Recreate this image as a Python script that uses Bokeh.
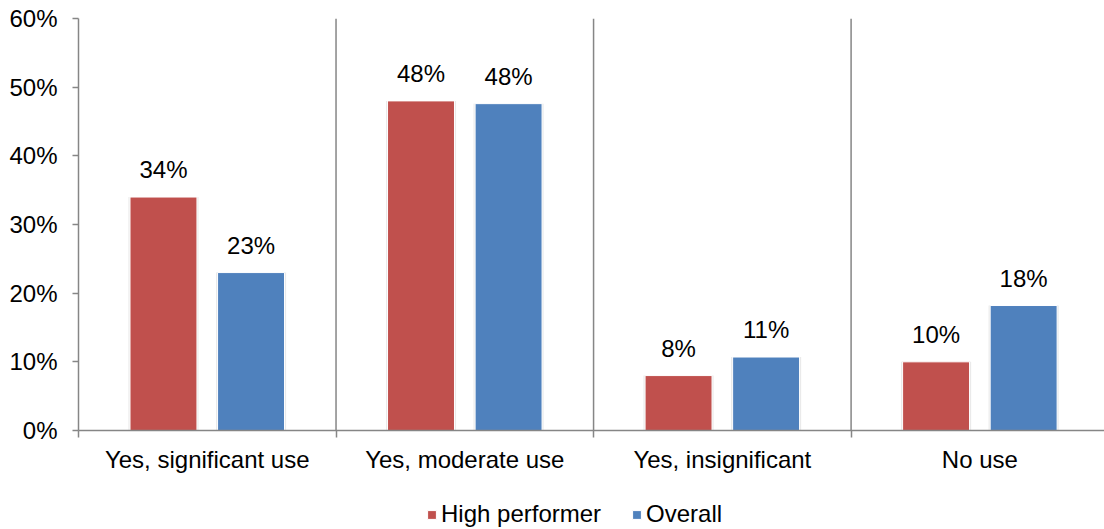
from bokeh.plotting import figure
from bokeh.layouts import column
from bokeh.models import (ColumnDataSource, FixedTicker, NumeralTickFormatter,
                          Span, Legend, LegendItem, Range1d)
from bokeh.core.properties import value
from bokeh.embed import file_html
from bokeh.resources import INLINE

# Survey responses: share of respondents per answer
categories = ["Yes, significant use", "Yes, moderate use", "Yes, insignificant", "No use"]
high_performer = [0.34, 0.48, 0.08, 0.10]
overall = [0.23, 0.476, 0.107, 0.182]
y_ticks = [0.0, 0.1, 0.2, 0.3, 0.4, 0.5, 0.6]
series_names = ["High performer", "Overall"]

RED = "#C0504D"
BLUE = "#4F81BD"
AXIS = "#868686"
FONT = "Liberation Sans"
FS = "24px"

n = len(categories)
centers = [i + 0.5 for i in range(n)]
bw = 0.26
off = 0.17

def pct(v):
    return f"{round(v * 100):.0f}%"

src_hp = ColumnDataSource(dict(x=[c - off for c in centers], top=high_performer,
                               label=[pct(v) for v in high_performer]))
src_ov = ColumnDataSource(dict(x=[c + off for c in centers], top=overall,
                               label=[pct(v) for v in overall]))

p = figure(frame_width=1026, frame_height=412, output_backend="svg", toolbar_location=None,
           x_range=Range1d(0, 3.984), y_range=Range1d(0, 0.6),
           min_border_left=78, min_border_right=0, min_border_top=18,
           min_border_bottom=67)
p.outline_line_color = None
p.xgrid.visible = False
p.ygrid.visible = False
p.background_fill_color = "white"
p.border_fill_color = "white"

# soft shadow behind each bar
for src in (src_hp, src_ov):
    p.vbar(x="x", top="top", width=bw + 0.012, source=src, fill_color="#bfbfbf",
           fill_alpha=0.35, line_color=None)

p.vbar(x="x", top="top", width=bw, source=src_hp, fill_color=RED,
       line_color="white", line_width=1)
p.vbar(x="x", top="top", width=bw, source=src_ov, fill_color=BLUE,
       line_color="white", line_width=1)

for src in (src_hp, src_ov):
    p.text(x="x", y="top", text="label", source=src, text_align="center",
           text_baseline="bottom", y_offset=-14, text_font_size=value(FS),
           text_font=value(FONT), text_color="black")

# separators between answer groups
for b in range(1, n):
    p.add_layout(Span(location=b, dimension="height", line_color=AXIS, line_width=1.5))

# axes
p.yaxis.ticker = FixedTicker(ticks=y_ticks)
p.yaxis.formatter = NumeralTickFormatter(format="0%")
p.yaxis.axis_line_color = AXIS
p.yaxis.axis_line_width = 1.5
p.yaxis.major_tick_line_color = AXIS
p.yaxis.major_tick_line_width = 1.5
p.yaxis.major_tick_out = 6
p.yaxis.major_tick_in = 0
p.yaxis.minor_tick_line_color = None
p.yaxis.major_label_standoff = 15
p.yaxis.major_label_text_font = FONT
p.yaxis.major_label_text_font_size = FS
p.yaxis.major_label_text_color = "black"

p.xaxis.ticker = FixedTicker(ticks=centers, minor_ticks=list(range(n + 1)))
p.xaxis.major_label_overrides = {c: cat for c, cat in zip(centers, categories)}
p.xaxis.axis_line_color = AXIS
p.xaxis.axis_line_width = 1.5
p.xaxis.major_tick_line_color = None
p.xaxis.minor_tick_line_color = AXIS
p.xaxis.minor_tick_line_width = 1.5
p.xaxis.minor_tick_out = 7
p.xaxis.minor_tick_in = 0
p.xaxis.major_label_standoff = 8
p.xaxis.major_label_text_font = FONT
p.xaxis.major_label_text_font_size = FS
p.xaxis.major_label_text_color = "black"

# legend strip underneath the chart; its key glyphs hold no drawable point
nan = float("nan")
lg = figure(frame_width=1104, frame_height=32, output_backend="svg", toolbar_location=None,
            x_range=Range1d(0, 1), y_range=Range1d(0, 1),
            x_axis_location=None, y_axis_location=None,
            min_border_left=0, min_border_right=0, min_border_top=0, min_border_bottom=0)
lg.outline_line_color = None
lg.xgrid.visible = False
lg.ygrid.visible = False
lg.border_fill_color = "white"
k_hp = lg.vbar(x=[nan], top=[nan], width=1, fill_color=RED, line_color="white")
k_ov = lg.vbar(x=[nan], top=[nan], width=1, fill_color=BLUE, line_color="white")

legend = Legend(items=[LegendItem(label=series_names[0], renderers=[k_hp]),
                       LegendItem(label=series_names[1], renderers=[k_ov])],
                orientation="horizontal", location=(426, 1),
                glyph_width=11, glyph_height=11, label_standoff=4, spacing=30,
                label_text_font=FONT, label_text_font_size=FS,
                label_text_color="black", border_line_color=None,
                background_fill_alpha=0, padding=0, margin=0)
lg.add_layout(legend, "center")

layout = column(p, lg, spacing=0)
open("out.html", "w").write(file_html(layout, INLINE))
